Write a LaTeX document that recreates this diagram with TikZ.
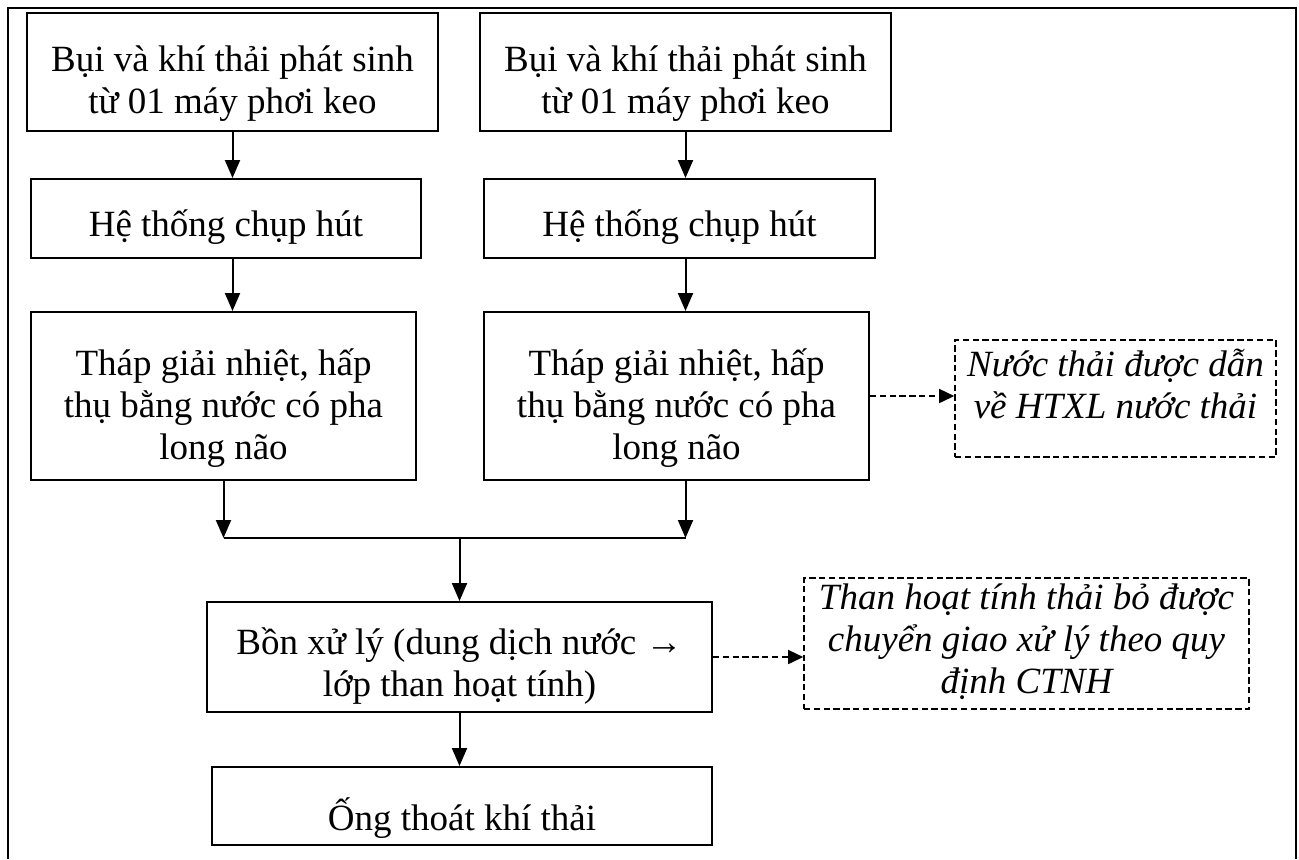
\documentclass[tikz,border=0pt]{standalone}
\usepackage{fontspec}
\setmainfont{Liberation Serif}
\usepackage{tikz}
\usetikzlibrary{arrows.meta,positioning,calc}

% text block lowered (negative) or raised (positive) inside its box
\newcommand{\boxtext}[2]{\raisebox{#1}[\height][\depth]{\begin{tabular}{@{}c@{}}#2\end{tabular}}}

\begin{document}
\begin{tikzpicture}[
    x={(0.5pt,0pt)}, y={(0pt,-0.5pt)},
    every node/.style={font=\fontsize{18.5}{21}\selectfont},
    procbox/.style={draw, line width=1pt, inner sep=0pt},
    notebox/.style={draw, line width=0.8pt, dash pattern=on 3.2pt off 1.7pt,
      inner sep=0pt, font=\fontsize{18.5}{21}\selectfont\itshape},
    flow/.style={line width=1pt, -{Triangle[length=9pt, width=7.5pt]}},
    sideflow/.style={line width=0.8pt, dash pattern=on 3.2pt off 1.7pt,
      -{Triangle[length=7.5pt, width=7pt]}},
  ]
    \useasboundingbox (0,0) rectangle (1299,859);

    % outer frame, open at the bottom
    \draw[line width=1pt] (8,859) -- (8,8) -- (1296,8) -- (1296,859);

    % ============ left line ============
    \node[procbox, minimum width=205.5pt, minimum height=59pt] (burnL) at (232.5,72)
      {\boxtext{-6pt}{Bụi và khí thải phát sinh\\từ 01 máy phơi keo}};
    \node[procbox, minimum width=195pt, minimum height=39.5pt] (hoodL) at (226,218.5)
      {\boxtext{-5pt}{Hệ thống chụp hút}};
    \node[procbox, minimum width=192.5pt, minimum height=84pt] (towerL) at (223.5,396)
      {\boxtext{-6.5pt}{Tháp giải nhiệt, hấp\\thụ bằng nước có pha\\long não}};

    % ============ right line ============
    \node[procbox, minimum width=205.5pt, minimum height=59pt] (burnR) at (685.5,72)
      {\boxtext{-6pt}{Bụi và khí thải phát sinh\\từ 01 máy phơi keo}};
    \node[procbox, minimum width=195.5pt, minimum height=39.5pt] (hoodR) at (679.5,218.5)
      {\boxtext{-5pt}{Hệ thống chụp hút}};
    \node[procbox, minimum width=192.5pt, minimum height=84pt] (towerR) at (676.5,396)
      {\boxtext{-6.5pt}{Tháp giải nhiệt, hấp\\thụ bằng nước có pha\\long não}};

    % ============ common treatment ============
    \node[procbox, minimum width=252.5pt, minimum height=55pt] (tank) at (459.5,657)
      {\boxtext{-5pt}{Bồn xử lý (dung dịch nước →\\lớp than hoạt tính)}};
    \node[procbox, minimum width=250pt, minimum height=39pt] (stack) at (462,806)
      {\boxtext{-7pt}{Ống thoát khí thải}};

    % ============ side outputs ============
    \node[notebox, minimum width=160.5pt, minimum height=58.5pt] (water) at (1115.5,398.5)
      {\boxtext{4.5pt}{Nước thải được dẫn\\về HTXL nước thải}};
    \node[notebox, minimum width=222.5pt, minimum height=65.5pt] (carbon) at (1026.5,643.5)
      {\boxtext{0pt}{Than hoạt tính thải bỏ được\\chuyển giao xử lý theo quy\\định CTNH}};

    \coordinate (joinL) at (towerL.south |- 0,538);
    \coordinate (joinR) at (burnR.south |- 0,538);
    \coordinate (joinM) at (tank.north |- 0,538);

    \draw[flow] (burnL.south) -- (burnL.south |- hoodL.north);
    \draw[flow] (hoodL.south -| burnL.south) -- (towerL.north -| burnL.south);
    \draw[flow] (towerL.south) -- (joinL);
    \draw[flow] (burnR.south) -- (burnR.south |- hoodR.north);
    \draw[flow] (hoodR.south -| burnR.south) -- (towerR.north -| burnR.south);
    \draw[flow] (towerR.south -| burnR.south) -- (joinR);
    \draw[line width=1pt] (joinL) -- (joinR);
    \draw[flow] (joinM) -- (tank.north);
    \draw[flow] (tank.south) -- (stack.north -| tank.south);

    \draw[sideflow] (towerR.east) -- (towerR.east -| water.west);
    \draw[sideflow] (tank.east) -- (tank.east -| carbon.west);
  \end{tikzpicture}
\end{document}
